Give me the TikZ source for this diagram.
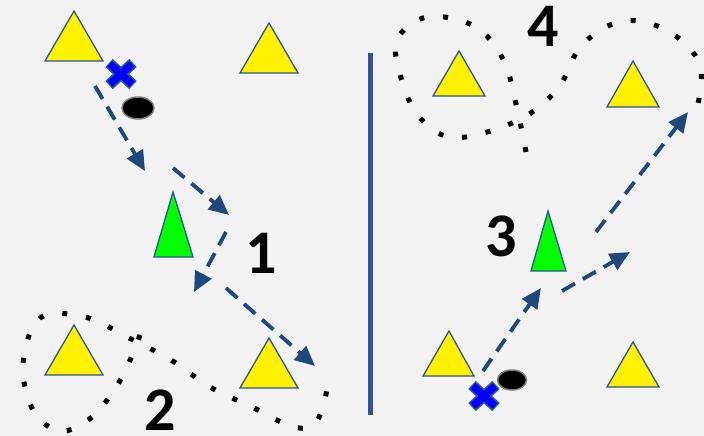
\documentclass[tikz,border=0pt]{standalone}
\usepackage{fontspec}
\newfontfamily\numfont{Carlito}
\usepackage{xcolor}
\usepackage{tikz}
\usetikzlibrary{arrows.meta}
\definecolor{drillblue}{RGB}{31,73,125}
\definecolor{edgeblue}{RGB}{47,85,151}
\definecolor{paper}{RGB}{242,242,242}
\tikzset{
  player/.pic={
    \draw[line width=11pt,edgeblue](-12,-11)--(12,11)(-12,11)--(12,-11);
    \draw[line width=7.5pt,blue](-11,-10)--(11,10)(-11,10)--(11,-10);
  }
}

\begin{document}
\begin{tikzpicture}[x=1pt,y=-1pt,
  cone/.style={fill=yellow,draw=edgeblue,line width=1.3pt},
  greencone/.style={cone,fill=green},
  run/.style={drillblue,line width=3.8pt,dash pattern=on 15pt off 9pt,-{Triangle[length=20pt,width=18pt]}},
  dotloop/.style={black,line width=5pt,dash pattern=on 5pt off 19pt},
  ball/.style={fill=black,draw=gray,line width=1.5pt},
  number/.style={font=\numfont\bfseries\fontsize{62}{62}\selectfont,inner sep=0pt}]
\useasboundingbox[fill=paper](0,0)rectangle(704,436);
% divider
\draw[edgeblue,line width=5pt](370,53)--(370,415);
% dotted loops
\draw[dotloop]plot[smooth,tension=0.6]coordinates{(140,335)(121,379)(92,417)(60,431)(33,410)(23,364)(40,318)(85,317)(127,337)(171,360)(210,387)(252,407)(294,427)(317,421)(330,376)};
\draw[dotloop]plot[smooth,tension=0.6]coordinates{(526,152)(516,104)(503,59)(474,26)(427,17)(397,40)(401,78)(417,114)(445,136)(480,134)(526,116)(559,87)(582,45)(623,21)(668,31)(700,65)(696,113)};
% yellow cones
\draw[cone](74,11)--(103,61)--(45,61)--cycle;
\draw[cone](269,23)--(298,73)--(240,73)--cycle;
\draw[cone](459,51)--(485,96)--(433,96)--cycle;
\draw[cone](633,61)--(659,107)--(607,107)--cycle;
\draw[cone](74,325)--(103,375)--(45,375)--cycle;
\draw[cone](269,338)--(298,388)--(240,388)--cycle;
\draw[cone](449,331)--(474,376)--(423,376)--cycle;
\draw[cone](633,342)--(659,387)--(607,387)--cycle;
% green cones
\draw[greencone](173,192)--(193,257)--(154,257)--cycle;
\draw[greencone](548,211)--(566,271)--(531,271)--cycle;
% runs
\draw[run](95,86)--(145,171);
\draw[run](173,168)--(229,215);
\draw[run](226,232)--(194,292);
\draw[run](226,288)--(315,366);
\draw[run](483,371)--(541,288);
\draw[run](562,291)--(630,252);
\draw[run](596,232)--(688,112);
% players and balls
\pic at (121,74){player};
\pic at (484,396){player};
\draw[ball](138,108)ellipse[x radius=16,y radius=11];
\draw[ball](512,380)ellipse[x radius=14.5,y radius=10];
% numbers
\node[number](n1)at(261,253){1};
\node[number](n2)at(160,410){2};
\node[number](n3)at(501,236){3};
\node[number](n4)at(543,26){4};
\end{tikzpicture}
\end{document}
